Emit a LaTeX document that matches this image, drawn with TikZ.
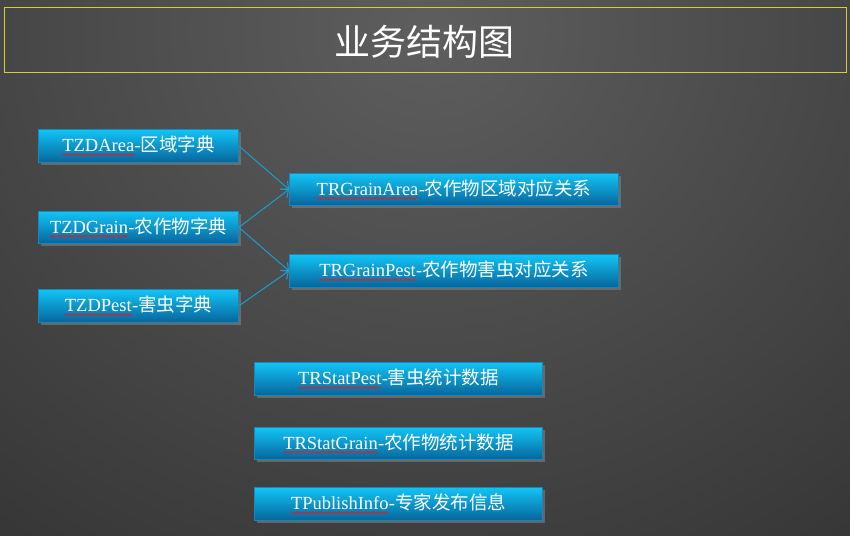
\documentclass[tikz,border=0pt]{standalone}
\usepackage{fontspec}
\setmainfont{Liberation Serif}
\newfontfamily\cjk{Noto Sans CJK SC}
\usetikzlibrary{shadows,arrows.meta,decorations.pathmorphing}
\definecolor{bgdark}{HTML}{262626}
\definecolor{bglight}{HTML}{5E5E5E}
\definecolor{boxtop}{HTML}{12C4F6}
\definecolor{boxbot}{HTML}{07659C}
\definecolor{boxline}{HTML}{1888B8}
\definecolor{arrowc}{HTML}{1A9ED0}
\definecolor{titleline}{HTML}{D8CC3A}
\definecolor{wavered}{HTML}{E02020}
\newcommand\redwave[1]{\tikz[baseline=(w.base)]{\node[draw=none,fill=none,minimum width=0pt,minimum height=0pt,inner sep=0pt,outer sep=0pt,anchor=center,text=white] (w) {#1};
  \draw[wavered, line width=0.7pt, decorate, decoration={snake, amplitude=0.8pt, segment length=2.6pt}] ([yshift=-3pt]w.base west) -- ([yshift=-3pt]w.base east);}}
\tikzset{
  bluebox/.style={draw=boxline, line width=0.8pt, top color=boxtop, bottom color=boxbot,
    drop shadow={opacity=0.6, shadow xshift=2.5pt, shadow yshift=-2.5pt},
    text=white, font=\fontsize{18.5}{20}\selectfont, inner sep=0pt, anchor=north west},
  link/.style={draw=arrowc, line width=1pt, -{Straight Barb[length=6pt,width=11pt,line width=1pt]}}
}
\begin{document}
\begin{tikzpicture}[x=1pt,y=-1pt]
\useasboundingbox (0,0) rectangle (850,535);
\begin{scope}
\clip (0,0) rectangle (850,535);
\fill[bgdark] (0,0) rectangle (850,535);
\fill[inner color=bglight, outer color=bgdark] (430,30) ellipse (1000 and 900);
\end{scope}
% title
\node[draw=titleline, line width=1.2pt, minimum width=842pt, minimum height=65pt, anchor=north west, inner sep=0pt] (title) at (4,7) {};
\node[text=white, font=\cjk\fontsize{36}{40}\selectfont] (titletext) at (424,42) {业务结构图};
% left boxes
\node[bluebox, minimum width=200pt, minimum height=33pt] (area) at (38,129) {\redwave{TZDArea}-{\cjk 区域字典}};
\node[bluebox, minimum width=200pt, minimum height=32pt] (grain) at (38,211) {\redwave{TZDGrain}-{\cjk 农作物字典}};
\node[bluebox, minimum width=200pt, minimum height=33pt] (pest) at (38,289) {\redwave{TZDPest}-{\cjk 害虫字典}};
% middle boxes
\node[bluebox, minimum width=329pt, minimum height=32pt] (ga) at (289,173) {\redwave{TRGrainArea}-{\cjk 农作物区域对应关系}};
\node[bluebox, minimum width=329pt, minimum height=33pt] (gp) at (289,254) {\redwave{TRGrainPest}-{\cjk 农作物害虫对应关系}};
% bottom boxes
\node[bluebox, minimum width=288pt, minimum height=33pt] (sp) at (254,362) {\redwave{TRStatPest}-{\cjk 害虫统计数据}};
\node[bluebox, minimum width=288pt, minimum height=32pt] (sg) at (254,427) {\redwave{TRStatGrain}-{\cjk 农作物统计数据}};
\node[bluebox, minimum width=288pt, minimum height=33pt] (pi) at (254,487) {\redwave{TPublishInfo}-{\cjk 专家发布信息}};
% connectors
\draw[link] (area.east) -- (ga.west);
\draw[link] (grain.east) -- (ga.west);
\draw[link] (grain.east) -- (gp.west);
\draw[link] (pest.east) -- (gp.west);
\end{tikzpicture}
\end{document}
